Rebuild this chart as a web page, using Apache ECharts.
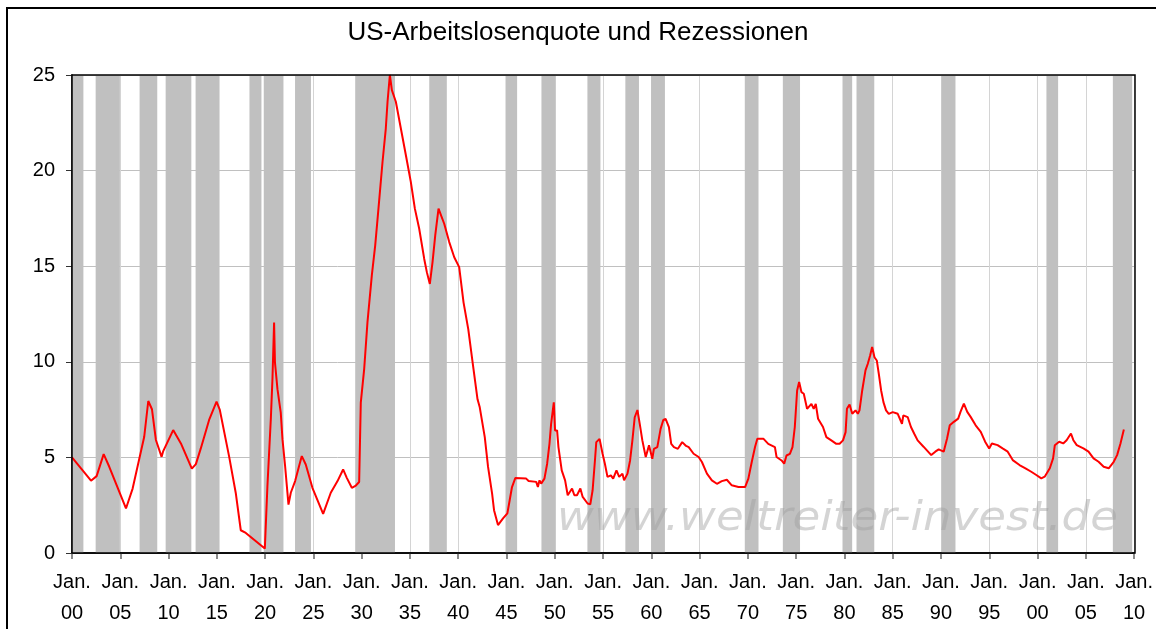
<!DOCTYPE html>
<html>
<head>
<meta charset="utf-8">
<script src="https://cdn.jsdelivr.net/npm/echarts@6/dist/echarts.min.js"></script>
<style>
  html, body { margin: 0; padding: 0; background: #fff; }
  #chart { width: 1156px; height: 629px; }
</style>
</head>
<body>
<div id="chart"></div>
<script>
// ---- Data ----
const titleText = 'US-Arbeitslosenquote und Rezessionen';
const watermarkText = 'www.weltreiter-invest.de';

// Unemployment rate (%), x in decimal years
const years = [
  1900.0, 1901.97, 1902.55, 1903.28, 1903.86, 1905.59, 1906.28, 1907.48, 1907.9, 1908.28,
  1908.69, 1909.28, 1909.45, 1910.48, 1911.28, 1912.41, 1912.83, 1913.34, 1914.2, 1914.97,
  1915.31, 1916.28, 1916.97, 1917.48, 1918.0, 1919.97, 1920.24, 1920.59, 1920.76, 1920.93,
  1921.0, 1921.02, 1921.28, 1921.62, 1921.8, 1922.07, 1922.42, 1922.66, 1923.11, 1923.52,
  1923.8, 1924.21, 1924.9, 1926.01, 1926.8, 1927.5, 1928.08, 1928.46, 1928.98, 1929.4,
  1929.74, 1929.91, 1930.26, 1930.6, 1931.05, 1931.4, 1931.74, 1932.16, 1932.5, 1932.68,
  1932.92, 1933.13, 1933.54, 1934.06, 1934.58, 1935.09, 1935.51, 1935.96, 1936.48, 1936.75,
  1937.06, 1937.34, 1937.62, 1937.96, 1938.13, 1938.55, 1939.07, 1939.59, 1940.1, 1940.55,
  1941.04, 1941.49, 1942.0, 1942.23, 1942.75, 1943.09, 1943.51, 1943.71, 1944.12, 1944.64,
  1945.09, 1945.33, 1945.57, 1945.91, 1947.04, 1947.29, 1948.08, 1948.25, 1948.42, 1948.59,
  1948.93, 1949.21, 1949.45, 1949.62, 1949.79, 1949.9, 1950.03, 1950.24, 1950.38, 1950.72,
  1951.07, 1951.34, 1951.79, 1952.03, 1952.3, 1952.65, 1952.89, 1953.4, 1953.68, 1953.92,
  1954.16, 1954.3, 1954.5, 1954.64, 1954.95, 1955.19, 1955.46, 1955.81, 1956.05, 1956.39,
  1956.67, 1957.01, 1957.18, 1957.53, 1957.8, 1958.04, 1958.28, 1958.56, 1958.8, 1959.07,
  1959.42, 1959.76, 1960.1, 1960.27, 1960.62, 1960.96, 1961.24, 1961.48, 1961.82, 1962.06,
  1962.34, 1962.75, 1963.2, 1963.6, 1963.87, 1964.38, 1964.9, 1965.24, 1965.76, 1966.27,
  1966.79, 1967.3, 1967.82, 1968.33, 1969.02, 1969.71, 1970.05, 1970.4, 1970.74, 1970.98,
  1971.6, 1972.11, 1972.8, 1972.97, 1973.49, 1973.76, 1974.0, 1974.35, 1974.62, 1974.86,
  1975.1, 1975.31, 1975.55, 1975.79, 1976.13, 1976.58, 1976.82, 1977.03, 1977.27, 1977.78,
  1978.13, 1978.64, 1979.16, 1979.5, 1979.85, 1980.12, 1980.26, 1980.53, 1980.81, 1981.15,
  1981.39, 1981.56, 1981.84, 1982.18, 1982.42, 1982.66, 1982.87, 1983.11, 1983.35, 1983.56,
  1983.8, 1984.04, 1984.31, 1984.59, 1985.0, 1985.52, 1985.96, 1986.1, 1986.55, 1986.89,
  1987.23, 1987.58, 1988.19, 1988.99, 1989.41, 1989.76, 1990.28, 1990.63, 1990.91, 1991.33,
  1991.78, 1992.02, 1992.37, 1992.72, 1993.07, 1993.59, 1994.12, 1994.57, 1994.99, 1995.27,
  1995.86, 1996.38, 1996.91, 1997.43, 1998.13, 1998.75, 1999.35, 1999.87, 2000.39, 2000.74,
  2001.27, 2001.61, 2001.79, 2002.24, 2002.66, 2003.01, 2003.46, 2003.71, 2004.06, 2004.75,
  2005.28, 2005.8, 2006.32, 2006.85, 2007.37, 2007.89, 2008.24, 2008.59, 2008.94
];
const rates = [
  5.0, 3.78, 4.02, 5.17, 4.51, 2.33, 3.37, 6.08, 7.95, 7.52,
  5.91, 5.03, 5.33, 6.43, 5.73, 4.41, 4.65, 5.47, 6.96, 7.92,
  7.48, 5.03, 3.11, 1.19, 1.05, 0.23, 3.5, 6.99, 9.09, 12.06,
  12.06, 9.97, 8.57, 7.34, 5.94, 4.55, 2.53, 3.15, 3.76, 4.55,
  5.07, 4.63, 3.41, 2.05, 3.15, 3.76, 4.37, 3.93, 3.41, 3.53,
  3.71, 7.87, 9.62, 12.06, 14.51, 16.08, 18.01, 20.45, 22.2, 23.6,
  25.0, 24.21, 23.6, 22.2, 20.8, 19.41, 18.01, 16.96, 15.38, 14.69,
  14.07, 15.21, 16.61, 18.01, 18.01, 17.22, 16.26, 15.47, 14.95, 13.11,
  11.71, 9.97, 8.04, 7.62, 6.06, 4.5, 3.11, 2.24, 1.46, 1.81,
  2.07, 2.76, 3.45, 3.92, 3.89, 3.77, 3.72, 3.45, 3.8, 3.63,
  3.89, 4.67, 5.71, 6.75, 6.67, 7.88, 6.41, 6.41, 5.54, 4.32,
  3.8, 3.02, 3.37, 3.02, 3.02, 3.37, 2.93, 2.59, 2.55, 3.28,
  4.84, 5.8, 5.71, 5.97, 5.19, 4.67, 3.98, 4.06, 3.89, 4.32,
  3.98, 4.15, 3.8, 4.15, 4.84, 5.89, 7.1, 7.48, 6.75, 5.89,
  5.02, 5.63, 4.93, 5.45, 5.54, 6.49, 6.96, 7.01, 6.58, 5.71,
  5.54, 5.45, 5.8, 5.6, 5.54, 5.19, 5.02, 4.76, 4.15, 3.8,
  3.62, 3.76, 3.83, 3.54, 3.45, 3.45, 3.89, 4.76, 5.54, 5.98,
  5.98, 5.71, 5.54, 5.02, 4.84, 4.67, 5.1, 5.19, 5.54, 6.59,
  8.5, 8.94, 8.41, 8.33, 7.54, 7.8, 7.54, 7.8, 7.02, 6.59,
  6.06, 5.89, 5.71, 5.71, 5.89, 6.32, 7.54, 7.77, 7.28, 7.46,
  7.28, 7.46, 8.5, 9.55, 9.9, 10.33, 10.77, 10.24, 10.07, 9.37,
  8.5, 7.89, 7.46, 7.28, 7.37, 7.28, 6.76, 7.2, 7.11, 6.59,
  6.24, 5.89, 5.56, 5.12, 5.3, 5.42, 5.3, 5.99, 6.68, 6.86,
  7.03, 7.38, 7.81, 7.38, 7.12, 6.68, 6.34, 5.82, 5.47, 5.73,
  5.64, 5.47, 5.3, 4.86, 4.6, 4.43, 4.25, 4.08, 3.9, 3.99,
  4.43, 4.95, 5.64, 5.82, 5.73, 5.9, 6.25, 5.9, 5.64, 5.47,
  5.3, 4.95, 4.77, 4.51, 4.43, 4.77, 5.12, 5.73, 6.46
];

// Recessions (start / end, decimal years)
const recStart = [1900.0, 1902.45, 1907.0, 1909.7, 1912.8, 1918.38, 1919.86, 1923.1, 1929.33, 1937.0,
                  1944.9, 1948.62, 1953.38, 1957.31, 1959.98, 1969.68, 1973.62, 1979.8, 1981.25, 1990.05,
                  2000.92, 2007.8];
const recEnd   = [1901.18, 1904.96, 1908.83, 1912.36, 1915.28, 1919.62, 1921.9, 1924.75, 1933.45, 1938.82,
                  1946.1, 1950.07, 1954.73, 1958.72, 1961.41, 1971.1, 1975.4, 1980.8, 1983.09, 1991.5,
                  2002.13, 2009.8];

// Axis
const xMin = 1900, xMax = 2010, xStep = 5;
const yMin = 0, yMax = 25, yStep = 5;

// ---- Chart ----
const chart = echarts.init(document.getElementById('chart'), null, { renderer: 'canvas' });
const FONT = '"Liberation Sans", Arial, sans-serif';

const lineData = years.map((y, i) => [y, rates[i]]);
const recData = recStart.map((s, i) => [s, recEnd[i]]);

const option = {
  backgroundColor: '#ffffff',
  animation: false,
  title: {
    text: titleText,
    left: 'center',
    top: 15,
    textStyle: { fontFamily: FONT, fontSize: 26, fontWeight: 'normal', color: '#000' }
  },
  grid: { left: 72, right: 21, top: 75, bottom: 76, containLabel: false },
  xAxis: {
    type: 'value',
    min: xMin, max: xMax, interval: xStep,
    axisLine: { show: true, onZero: false, lineStyle: { color: '#000', width: 1.5 } },
    axisTick: { show: true, length: 6, lineStyle: { color: '#666', width: 1.5 } },
    axisLabel: {
      fontFamily: FONT, fontSize: 20, color: '#000', lineHeight: 31, margin: 14,
      formatter: v => 'Jan.\n' + String(Math.round(v) % 100).padStart(2, '0')
    },
    splitLine: { show: true, lineStyle: { color: '#d4d4d4', width: 1 } }
  },
  yAxis: {
    type: 'value',
    min: yMin, max: yMax, interval: yStep,
    axisLine: { show: true, lineStyle: { color: '#555', width: 2 } },
    axisTick: { show: true, length: 6, lineStyle: { color: '#333', width: 1 } },
    axisLabel: { fontFamily: FONT, fontSize: 20, color: '#000', margin: 17 },
    splitLine: { show: true, lineStyle: { color: '#c0c0c0', width: 1 } }
  },
  series: [
    {
      type: 'custom',
      name: 'Rezession',
      z: 1,
      silent: true,
      data: recData,
      encode: { x: [0, 1] },
      renderItem: function (params, api) {
        const p1 = api.coord([api.value(0), yMax]);
        const p2 = api.coord([api.value(1), yMin]);
        return {
          type: 'rect',
          shape: { x: p1[0], y: p1[1], width: p2[0] - p1[0], height: p2[1] - p1[1] },
          style: { fill: '#c0c0c0' }
        };
      }
    },
    {
      type: 'line',
      name: 'Arbeitslosenquote',
      z: 3,
      data: lineData,
      symbol: 'none',
      smooth: false,
      lineStyle: { color: '#ff0000', width: 2 },
      itemStyle: { color: '#ff0000' }
    }
  ],
  graphic: [
    {
      type: 'text',
      z: 50,
      silent: true,
      x: 557, y: 519,
      scaleX: 1.1,
      style: {
        text: watermarkText,
        x: 0, y: 0,
        textVerticalAlign: 'middle',
        font: 'italic 41px "DejaVu Sans", sans-serif',
        fill: 'rgba(160,160,160,0.45)'
      }
    },
    {
      type: 'rect',
      z: 60,
      silent: true,
      shape: { x: 72, y: 75, width: 1063, height: 478 },
      style: { fill: 'none', stroke: '#000', lineWidth: 1.5 }
    },
    {
      type: 'rect',
      z: 60,
      silent: true,
      shape: { x: 7, y: 8, width: 1170, height: 700 },
      style: { fill: 'none', stroke: '#000', lineWidth: 2 }
    }
  ]
};
chart.setOption(option);
</script>
</body>
</html>
